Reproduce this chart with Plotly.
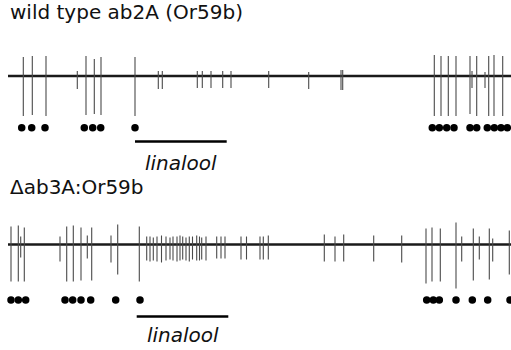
import plotly.graph_objects as go

# ---- data (time in arbitrary units along the recording, amplitudes in trace units) ----
trace_start = 8
trace_end = 511

# Recording 1: wild type ab2A (Or59b)
t1 = [23.3, 32.3, 46, 77.3, 86, 94.3, 101, 135, 158.3, 162.3, 197.3, 202.3, 211, 222.7, 231,
      268.7, 308.7, 341, 342.7, 434.3, 441, 448.3, 456, 470, 472, 476.7, 485, 488.7, 494, 502.7]
up1 = [19, 20, 20, 5, 20, 17, 19, 19, 5, 5, 5, 5, 5, 5, 5,
       5, 4, 6, 6, 21, 20, 20, 20, 20, 5, 20, 4, 20, 21, 20]
down1 = [40, 39, 40, 13, 39, 38, 39, 40, 13, 13, 12, 12, 12, 12, 12,
         12, 13, 14, 14, 40, 40, 40, 40, 38, 12, 40, 12, 40, 40, 40]
dots1 = [21.7, 31.7, 45, 84.3, 92.7, 100.7, 135, 432.3, 439.3, 446.7, 454, 470, 476.7,
         487.3, 494.3, 501, 507.3]

# Recording 2: Δab3A:Or59b
t2 = [11, 18.3, 20.7, 24.3, 60, 66.7, 73.3, 81, 87.3, 91.7, 111, 117.7, 139.3,
      146.7, 150, 153.3, 157, 161.5, 166, 170, 173, 177, 180, 182.7, 186, 189.3, 192.5, 196.7,
      199.5, 201.7, 206, 216.7, 221, 225, 241, 246.5, 260, 263.3, 268.3, 324.3, 335, 343.7,
      373.7, 401.7, 426, 432, 440.3, 456, 461.7, 473.3, 479.3, 489.3, 492.7, 509.3]
up2 = [18, 19, 8, 17, 8, 18, 19, 17, 9, 17, 9, 20, 18,
       8, 8, 7, 8, 9, 8, 7, 8, 8, 9, 8, 7, 8, 8, 9,
       8, 7, 8, 8, 8, 8, 8, 8, 8, 8, 9, 10, 8, 10,
       9, 9, 16, 17, 16, 22, 8, 16, 8, 16, 6, 14]
down2 = [37, 37, 13, 37, 17, 37, 37, 36, 14, 36, 18, 30, 37,
         16, 17, 16, 17, 18, 16, 15, 16, 17, 16, 15, 16, 17, 15, 16,
         16, 15, 16, 14, 14, 14, 15, 15, 15, 15, 15, 17, 17, 17,
         17, 18, 39, 37, 37, 44, 17, 36, 15, 35, 17, 30]
dots2 = [11, 18.3, 25.7, 65, 72.7, 81, 90.7, 115.7, 140, 426.7, 433.3, 439.3, 456, 472.3,
         487.7, 510]

# stimulus (odor) periods
stim1 = [135, 226.7]
stim2 = [136.7, 228.3]

titles = ["wild type ab2A (Or59b)", "\u0394ab3A:Or59b"]
odor = "linalool"

# ---- layout constants ----
base = [76, 244.5]
dot_y = [127.7, 300]
bar_y = [141.5, 316.5]
label_y = [163, 335]
title_y = [12, 187]


def spike_path(ts, ups, downs, b):
    xs, ys = [], []
    for t, u, d in zip(ts, ups, downs):
        xs += [t, t, None]
        ys += [b - u, b + d, None]
    return xs, ys


fig = go.Figure()
for i, (ts, ups, downs, dots, stim) in enumerate(
        [(t1, up1, down1, dots1, stim1), (t2, up2, down2, dots2, stim2)]):
    b = base[i]
    fig.add_trace(go.Scatter(x=[trace_start, trace_end], y=[b, b], mode="lines",
                             line=dict(color="#1a1a1a", width=2.4), hoverinfo="skip"))
    sx, sy = spike_path(ts, ups, downs, b)
    fig.add_trace(go.Scatter(x=sx, y=sy, mode="lines", connectgaps=False,
                             line=dict(color="#4a4a4a", width=1.1), hoverinfo="skip"))
    fig.add_trace(go.Scatter(x=dots, y=[dot_y[i]] * len(dots), mode="markers",
                             marker=dict(color="black", size=7.5), hoverinfo="skip"))
    fig.add_trace(go.Scatter(x=stim, y=[bar_y[i]] * 2, mode="lines",
                             line=dict(color="black", width=2.4), hoverinfo="skip"))
    fig.add_annotation(x=trace_start, y=title_y[i], xref="x", yref="y", text=titles[i],
                       showarrow=False, xanchor="left", yanchor="middle",
                       font=dict(family="DejaVu Sans", size=20, color="#111"))
    fig.add_annotation(x=(stim[0] + stim[1]) / 2, y=label_y[i], xref="x", yref="y",
                       text="<i>" + odor + "</i>", showarrow=False,
                       xanchor="center", yanchor="middle",
                       font=dict(family="DejaVu Sans", size=20, color="#111"))

fig.update_layout(width=511, height=350, margin=dict(l=0, r=0, t=0, b=0),
                  paper_bgcolor="white", plot_bgcolor="white", showlegend=False)
fig.update_xaxes(range=[0, 511], visible=False, fixedrange=True)
fig.update_yaxes(range=[350, 0], visible=False, fixedrange=True)

fig.write_html("out.html")
